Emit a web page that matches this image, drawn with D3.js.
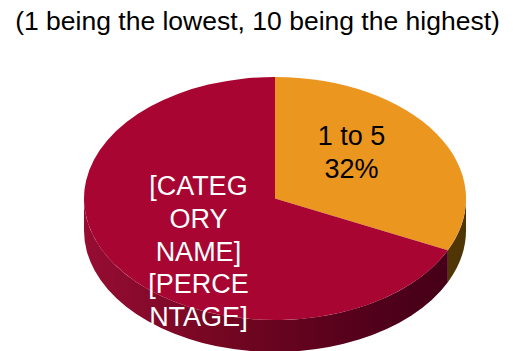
<!DOCTYPE html>
<html>
<head>
<meta charset="utf-8">
<script src="https://cdn.jsdelivr.net/npm/d3@7"></script>
<style>
  html, body { margin: 0; padding: 0; background: #ffffff; }
  svg { display: block; }
  text { font-family: "Liberation Sans", Arial, Helvetica, sans-serif; }
</style>
</head>
<body>
<svg id="chart" width="513" height="351"></svg>
<script>
// ---- data ----
const titleText = "(1 being the lowest, 10 being the highest)";
const categories = ["1 to 5", "[CATEGORY NAME]"];
const values = [32, 68];
const labelLines = [
  ["1 to 5", "32%"],
  ["[CATEG", "ORY", "NAME]", "[PERCE", "NTAGE]"]
];

// ---- styling ----
const topColors = ["#EB961F", "#A80532"];
const sideStops = [
  [["0", "#71500f"], ["1", "#4f3505"]],
  [["0", "#960c33"], ["0.35", "#750722"], ["0.75", "#52001b"], ["1", "#420016"]]
];
const labelColors = ["#000000", "#ffffff"];
const labelNudge = [-16, 21.5];   // vertical nudge of each label block from its centroid
const labelFont = 27, lineH = 32.6;

const W = 513, H = 351;
const cx = 275, cy = 198.5, rx = 191, ry = 121.5, depth = 32;

const svg = d3.select("#chart");
const defs = svg.append("defs");

// Title
svg.append("text")
  .attr("x", 257.5).attr("y", 30)
  .attr("text-anchor", "middle")
  .attr("font-size", 26.5)
  .attr("fill", "#000")
  .text(titleText);

const pie = d3.pie().sort(null).value(d => d)
  .startAngle(0).endAngle(2 * Math.PI);
const slices = pie(values);

// Side gradients (horizontal across the pie width)
sideStops.forEach((stops, i) => {
  const g = defs.append("linearGradient")
    .attr("id", "side" + i)
    .attr("gradientUnits", "userSpaceOnUse")
    .attr("x1", cx - rx).attr("x2", cx + rx)
    .attr("y1", 0).attr("y2", 0);
  stops.forEach(s => g.append("stop").attr("offset", s[0]).attr("stop-color", s[1]));
});

// Point on the top ellipse for a d3 pie angle (0 = 12 o'clock, clockwise)
const px = a => cx + rx * Math.sin(a);
const py = a => cy - ry * Math.cos(a);

// Visible outer wall of a slice: only the front half (angles pi/2 .. 3pi/2)
function wallPath(s) {
  const a0 = Math.max(s.startAngle, Math.PI / 2);
  const a1 = Math.min(s.endAngle, 3 * Math.PI / 2);
  if (a1 <= a0) return null;
  const large = (a1 - a0) > Math.PI ? 1 : 0;
  return `M${px(a0)},${py(a0)}` +
    `A${rx},${ry} 0 ${large} 1 ${px(a1)},${py(a1)}` +
    `L${px(a1)},${py(a1) + depth}` +
    `A${rx},${ry} 0 ${large} 0 ${px(a0)},${py(a0) + depth}Z`;
}

const walls = svg.append("g");
slices.forEach((s, i) => {
  const p = wallPath(s);
  if (p) walls.append("path").attr("d", p).attr("fill", `url(#side${i})`);
});

// Top face: circular arcs squashed into an ellipse
const arc = d3.arc().innerRadius(0).outerRadius(rx);
const topFace = svg.append("g")
  .attr("transform", `translate(${cx},${cy}) scale(1,${ry / rx})`);
topFace.selectAll("path")
  .data(slices)
  .join("path")
  .attr("d", arc)
  .attr("fill", (d, i) => topColors[i]);

// Labels centred on each slice's (projected) centroid
const labelArc = d3.arc().innerRadius(0).outerRadius(rx * 0.95);
const capMid = labelFont * 0.716 / 2;
slices.forEach((s, i) => {
  const c = labelArc.centroid(s);
  const lx = cx + c[0];
  const ly = cy + c[1] * ry / rx + labelNudge[i];
  const lines = labelLines[i];
  const t = svg.append("text")
    .attr("text-anchor", "middle")
    .attr("font-size", labelFont)
    .attr("fill", labelColors[i]);
  lines.forEach((ln, k) => {
    t.append("tspan")
      .attr("x", lx)
      .attr("y", ly - (lines.length - 1) / 2 * lineH + k * lineH + capMid)
      .text(ln);
  });
});
</script>
</body>
</html>
